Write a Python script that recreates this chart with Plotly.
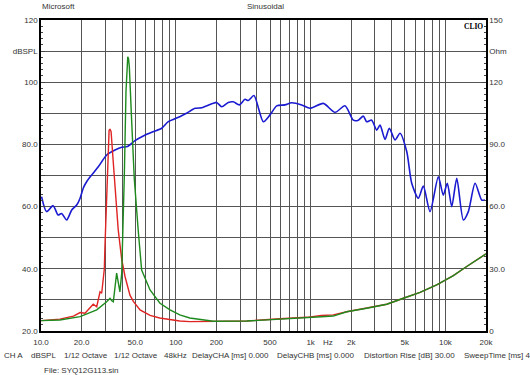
import plotly.graph_objects as go

# ---- data ----
spl_freq = [10.1, 11.0, 12.3, 13.4, 14.2, 15.5, 16.9, 18.4, 19.5, 20.6, 21.8, 23.8, 26.6, 30.7,
            35.4, 39.7, 43.7, 49.8, 57.4, 68.1, 78.6, 88, 107, 120, 139, 156, 170, 190, 201,
            219, 245, 267, 296, 326, 345, 380, 446, 500, 560, 646, 724, 859, 990, 1242, 1517,
            1799, 2075, 2260, 2461, 2606, 2838, 3090, 3273, 3565, 3837, 4227, 4605, 5164, 5623,
            6295, 6855, 7690, 8861, 9640, 10326, 11140, 12140, 13580, 14790, 16600, 18580, 19680]
spl_db = [63.2, 58.4, 60.3, 57.3, 57.8, 55.7, 58.9, 60.5, 62.7, 66.0, 68.0, 70.2, 72.8, 76.6,
          78.2, 79.1, 79.3, 81.2, 82.7, 84.1, 85.2, 87.3, 88.9, 90.0, 91.6, 91.8, 92.4, 93.2, 93.5,
          92.1, 93.5, 93.7, 92.7, 94.5, 94.1, 95.7, 87.3, 89.5, 92.4, 92.7, 93.4, 92.7, 91.6, 93.2, 90.3,
          92.4, 87.8, 87.8, 89.1, 87.3, 87.8, 84.6, 86.2, 81.6, 85.2, 81.4, 83.6, 77.7, 67.5,
          62.7, 66.6, 58.4, 69.6, 63.7, 67.5, 60.0, 69.1, 55.7, 58.4, 67.5, 62.1, 62.1]

red_freq = [10, 13.8, 17.4, 19.5, 21.2, 22.4, 24.4, 25.9, 27.4, 28.2, 29.0, 29.5, 29.8, 30.7,
            31.6, 32.0, 32.5, 33.1, 34.4, 36.0, 37.4, 39.7, 42.0, 45.7, 48.4, 54.3, 64.4, 76,
            90, 107, 127, 190, 336, 593, 935, 1200, 1473, 1853, 2606, 3672, 4875, 6486, 8617,
            11450, 14385, 19320, 20000]
red_ohm = [5.0, 5.7, 7.2, 8.9, 8.6, 10.5, 12.9, 11.7, 18.9, 18.2, 24.6, 30.0, 40.5, 67.5,
           92.1, 96.8, 97.4, 96.2, 81.0, 63.0, 48.8, 34.5, 26.3, 17.3, 14.3, 10.2, 7.5, 6.3,
           5.6, 4.8, 4.5, 4.5, 4.8, 5.9, 6.6, 7.5, 7.8, 9.3, 11.0, 12.9, 15.8, 18.6, 22.2,
           26.7, 31.1, 36.6, 37.2]

green_freq = [10, 13.8, 19.5, 25.9, 30.7, 32.5, 33.5, 34.4, 36.4, 37.4, 38.5, 39.7, 40.4, 41.5,
              42.7, 43.4, 44.0, 44.6, 45.2, 47.1, 49.2, 52.7, 55.8, 64.4, 76.3, 90.6, 107, 127,
              190, 336, 593, 935, 1200, 1473, 1853, 2606, 3672, 4875, 6486, 8617, 11450, 14385,
              19320, 20000]
green_ohm = [5.0, 5.3, 6.9, 10.2, 14.1, 15.8, 14.6, 14.1, 27.9, 23.1, 18.9, 27.9, 43.5, 75.0,
             115.5, 127.5, 132.3, 131.3, 127.5, 100.5, 73.5, 48.0, 29.4, 19.8, 13.4, 10.2, 7.8, 6.3,
             4.7, 4.8, 5.9, 6.6, 6.9, 7.2, 9.3, 11.0, 12.9, 15.8, 18.6, 22.2, 26.7, 31.1,
             36.6, 37.2]

x_tickvals = [10, 20, 30, 40, 50, 60, 70, 80, 90, 100, 200, 300, 400, 500, 600, 700, 800, 900,
              1000, 2000, 3000, 4000, 5000, 6000, 7000, 8000, 9000, 10000, 20000]
x_ticktext = ["10.0", "20.0", "", "", "50.0", "", "", "", "", "100", "200", "", "", "500", "", "", "", "",
              "1k", "2k", "", "", "5k", "", "", "", "", "10k", "20k"]
y_tickvals = [20, 30, 40, 50, 60, 70, 80, 90, 100, 110, 120]
y_ticktext = ["20.0", "", "40.0", "", "60.0", "", "80.0", "", "100", "dBSPL", "120"]
y2_tickvals = [0, 30, 60, 90, 120, 135, 150]
y2_ticktext = ["0", "30.0", "60.0", "90.0", "120", "Ohm", "150"]

footer = [("CH A", 2), ("dBSPL", 29), ("1/12 Octave", 62), ("1/12 Octave", 112), ("48kHz", 162),
          ("DelayCHA [ms] 0.000", 190), ("DelayCHB [ms] 0.000", 275),
          ("Distortion Rise [dB] 30.00", 362), ("SweepTime [ms] 4", 462)]

# ---- figure ----
W, H = 530, 375
L, R, T, B = 41, 44, 20, 44
pw, ph = W - L - R, H - T - B

def px(x):
    return (x - L) / pw

def py(y):
    return (H - B - y) / ph

FONT = "Liberation Sans, Arial, sans-serif"
TXT = "#333333"
GRID = "#555555"

fig = go.Figure()
fig.add_trace(go.Scatter(x=red_freq, y=red_ohm, yaxis="y2", mode="lines",
                         line=dict(color="#e02424", width=1.4), hoverinfo="skip"))
fig.add_trace(go.Scatter(x=green_freq, y=green_ohm, yaxis="y2", mode="lines",
                         line=dict(color="#1e8a1e", width=1.4), hoverinfo="skip"))
fig.add_trace(go.Scatter(x=spl_freq, y=spl_db, mode="lines",
                         line=dict(color="#1a1ad0", width=1.6, shape="spline", smoothing=0.7),
                         hoverinfo="skip"))

fig.update_layout(
    width=W, height=H,
    margin=dict(l=L, r=R, t=T, b=B, pad=0),
    paper_bgcolor="white", plot_bgcolor="white",
    showlegend=False,
    font=dict(family=FONT, size=8, color=TXT),
    xaxis=dict(type="log", range=[1, 4.30103], tickmode="array",
               tickvals=x_tickvals, ticktext=x_ticktext,
               showgrid=True, gridcolor=GRID, gridwidth=1,
               showline=True, linecolor="black", linewidth=1.5, mirror=True,
               ticks="outside", ticklen=3, tickcolor="rgba(0,0,0,0)",
               tickfont=dict(size=8, color=TXT), zeroline=False),
    yaxis=dict(range=[20, 120], tickmode="array", tickvals=y_tickvals, ticktext=y_ticktext,
               showgrid=True, gridcolor=GRID, gridwidth=1,
               showline=True, linecolor="black", linewidth=1.5, mirror=True,
               ticks="inside", ticklen=4, tickcolor="#444",
               minor=dict(tickmode="linear", tick0=20, dtick=2, ticks="inside",
                          ticklen=2, tickcolor="#444", showgrid=False),
               tickfont=dict(size=8, color=TXT), zeroline=False),
    yaxis2=dict(range=[0, 150], overlaying="y", side="right", tickmode="array",
                tickvals=y2_tickvals, ticktext=y2_ticktext, showgrid=False,
                showline=True, linecolor="black", linewidth=1.5,
                ticks="inside", ticklen=4, tickcolor="#444",
                minor=dict(tickmode="linear", tick0=0, dtick=3, ticks="inside",
                           ticklen=2, tickcolor="#444", showgrid=False),
                tickfont=dict(size=8, color=TXT), zeroline=False),
)

ann = []
ann.append(dict(text="Microsoft", x=px(40), y=py(7), xanchor="left", yanchor="middle"))
ann.append(dict(text="Sinusoidal", x=px(265), y=py(7), xanchor="center", yanchor="middle"))
ann.append(dict(text="Hz", x=px(328), y=py(342), xanchor="center", yanchor="middle"))
ann.append(dict(text="<b>CLIO</b>", x=px(485), y=py(20), xanchor="right", yanchor="top",
                font=dict(family="Liberation Serif, serif", size=7.5, color="black")))
for t, x0 in footer:
    ann.append(dict(text=t, x=px(x0), y=py(355), xanchor="left", yanchor="middle"))
ann.append(dict(text="File: SYQ12G113.sin", x=px(42), y=py(370), xanchor="left", yanchor="middle"))
for a in ann:
    a.update(xref="paper", yref="paper", showarrow=False)
    a.setdefault("font", dict(family=FONT, size=8, color=TXT))
fig.update_layout(annotations=ann)

fig.write_html("out.html", config={"displayModeBar": False},
               post_script="document.body.style.margin='0px';document.body.style.overflow='hidden';")
